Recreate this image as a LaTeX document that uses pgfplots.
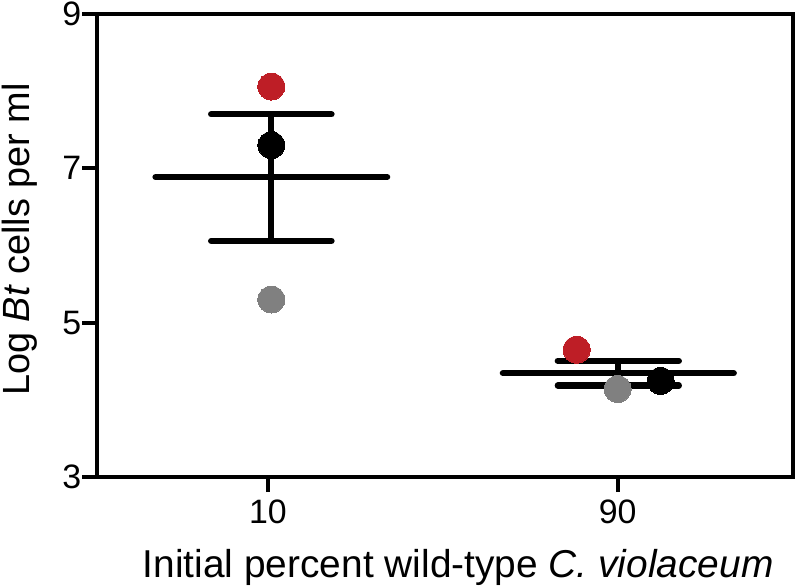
\documentclass[border=0pt]{standalone}
\usepackage{fontspec}
\setmainfont{Liberation Sans}
\usepackage{pgfplots}
\pgfplotsset{compat=1.18}
\definecolor{cvred}{RGB}{190,30,38}
\definecolor{cvgray}{RGB}{128,128,128}
\begin{document}
\begin{tikzpicture}
\begin{axis}[
  scale only axis, width=695bp, height=463bp,
  xmin=-0.487, xmax=1.5, ymin=3, ymax=9,
  ytick={3,5,7,9}, xtick={0,1}, xticklabels={10,90},
  axis line style={line width=4bp},
  major tick style={black, line width=4bp},
  tick align=outside, major tick length=15bp,
  xtick pos=bottom, ytick pos=left,
  tick label style={font=\fontsize{34}{40}\selectfont},
  yticklabel style={inner sep=1bp},
  xticklabel style={inner sep=0bp, yshift=-8bp},
  /pgf/number format/assume math mode=true,
  label style={font=\fontsize{38}{46}\selectfont},
  xlabel={Initial percent wild-type \textit{C. violaceum}},
  ylabel={Log \textit{Bt} cells per ml},
  xlabel style={font=\fontsize{39}{46}\selectfont, at={(axis description cs:0.519,-0.216)}, anchor=base},
  ylabel style={at={(axis description cs:-0.0978,0.513)}, anchor=base},
  clip=false,
]
\coordinate (O) at (rel axis cs:0,0);
% group 10: mean and SEM
\addplot[black, line width=6.3bp, line cap=round] coordinates {(-0.321,6.887) (0.341,6.887)};
\addplot[black, line width=6.3bp, line cap=round] coordinates {(-0.162,7.70) (0.182,7.70)};
\addplot[black, line width=6.3bp, line cap=round] coordinates {(-0.162,6.06) (0.182,6.06)};
\addplot[black, line width=6.3bp] coordinates {(0.01,6.06) (0.01,7.70)};
% group 90: mean and SEM
\addplot[black, line width=6.3bp, line cap=round] coordinates {(0.672,4.346) (1.332,4.346)};
\addplot[black, line width=6.3bp, line cap=round] coordinates {(0.829,4.505) (1.175,4.505)};
\addplot[black, line width=6.3bp, line cap=round] coordinates {(0.829,4.185) (1.175,4.185)};
\addplot[black, line width=6.3bp] coordinates {(1.002,4.185) (1.002,4.505)};
% points
\addplot[only marks, mark=*, mark size=13.5bp, color=cvred, mark options={draw=cvred, fill=cvred, line width=0pt}] coordinates {(0.01,8.06) (0.883,4.65)};
\addplot[only marks, mark=*, mark size=13.5bp, color=black, mark options={draw=black, fill=black, line width=0pt}] coordinates {(0.01,7.30) (1.123,4.245)};
\addplot[only marks, mark=*, mark size=13.5bp, color=cvgray, mark options={draw=cvgray, fill=cvgray, line width=0pt}] coordinates {(0.01,5.30) (1.0,4.14)};
\end{axis}
\pgfresetboundingbox
\path (O) ++(-97.5bp,-109bp) rectangle ++(795bp,586bp);
\end{tikzpicture}
\end{document}
